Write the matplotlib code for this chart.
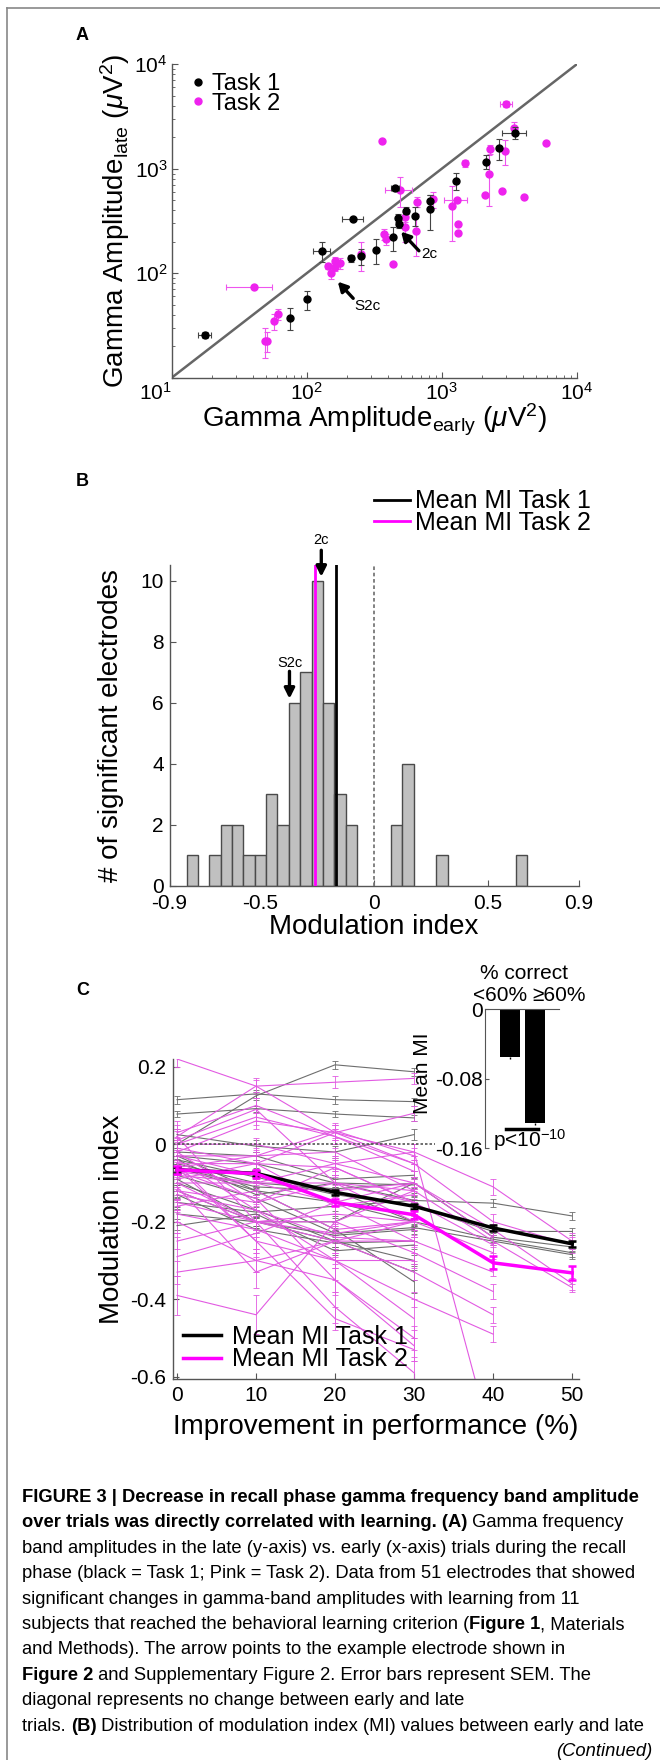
import numpy as np
import matplotlib
matplotlib.use("Agg")
import matplotlib.pyplot as plt
from matplotlib.lines import Line2D
from matplotlib.patches import Rectangle

plt.rcParams["font.family"] = ["Liberation Sans", "DejaVu Sans"]
plt.rcParams["mathtext.fontset"] = "custom"
plt.rcParams["mathtext.rm"] = "Liberation Sans"
plt.rcParams["mathtext.it"] = "Liberation Sans:italic"
plt.rcParams["mathtext.bf"] = "Liberation Sans:bold"
plt.rcParams["axes.unicode_minus"] = False

W, H = 660, 1760
MAGENTA = "#ff00ff"
PINK = "#e25ae2"
GRAY = "#6e6e6e"

# ---------------- panel A: late vs early gamma amplitude ----------------
t1_early = [17.7, 74.6, 100, 130, 214, 222, 251, 327, 438, 450, 474, 480, 540, 635, 813, 813, 1279, 2138, 2650, 3476]
t1_late = [25.6, 37.5, 56.2, 164, 139, 330, 146, 167, 220, 650, 340, 295, 397, 356, 495, 412, 769, 1169, 1570, 2218]
t1_late_err = [1.5, 9, 12, 37, 12, 10, 25, 45, 55, 40, 30, 25, 30, 75, 60, 150, 140, 180, 350, 300]
t1_early_err = [2, 0, 0, 18, 0, 40, 0, 0, 0, 30, 0, 0, 0, 0, 0, 0, 0, 0, 0, 700]

t2_early = [40.4, 49, 51, 57.7, 61.1, 143, 152, 161, 163, 176, 251, 359, 373, 386, 438, 490, 533, 533,
            656, 643, 867, 1199, 1297, 1313, 1320, 1496, 2109, 2249, 2279, 2786, 2953, 3010, 3428, 4036, 5875]
t2_late = [74.3, 22.6, 22.6, 34.8, 40.4, 117, 100, 132, 115, 124, 152, 1858, 237, 212, 122, 627, 348, 279,
           484, 255, 513, 443, 499, 296, 241, 1128, 561, 891, 1535, 617, 1479, 4169, 2439, 532, 1754]
t2_late_err = [2, 7, 5, 6, 5, 8, 12, 10, 10, 15, 48, 0, 30, 25, 3, 200, 40, 80,
               50, 110, 90, 240, 20, 10, 10, 80, 10, 450, 150, 10, 400, 300, 350, 10, 10]
t2_early_err = [15, 0, 0, 0, 0, 0, 0, 0, 0, 0, 0, 0, 0, 0, 0, 110, 0, 0,
                0, 0, 0, 0, 250, 0, 0, 0, 0, 0, 0, 0, 0, 300, 0, 0, 0]
amp_ticks = [10, 100, 1000, 10000]
amp_ticklabels = [r"$\mathregular{10^{1}}$", r"$\mathregular{10^{2}}$",
                  r"$\mathregular{10^{3}}$", r"$\mathregular{10^{4}}$"]

# ---------------- panel B: histogram of modulation index ----------------
mi_bin_centers = [-0.80, -0.70, -0.65, -0.60, -0.55, -0.50, -0.45, -0.40, -0.35, -0.30,
                  -0.25, -0.20, -0.15, -0.10, 0.10, 0.15, 0.30, 0.65]
mi_counts = [1, 1, 2, 2, 1, 1, 3, 2, 6, 7, 10, 6, 3, 2, 2, 4, 1, 1]
mean_mi_task1 = -0.167
mean_mi_task2 = -0.261

# ---------------- panel C: MI vs improvement ----------------
improvement = [0, 10, 20, 30, 40, 50]
task1_lines = [
    [0.115, 0.13, 0.115, 0.11],
    [0.0, 0.125, 0.205, 0.187],
    [0.078, 0.092, 0.078, 0.068],
    [0.025, -0.005, -0.02, 0.025],
    [-0.03, -0.05, -0.1, -0.145, -0.152, -0.185],
    [-0.04, -0.085, -0.13, -0.16, -0.225, -0.225],
    [-0.05, -0.1, -0.115, -0.1, -0.24, -0.265],
    [-0.06, -0.12, -0.15, -0.2, -0.245, -0.28],
    [-0.08, -0.14, -0.23, -0.215, -0.25, -0.285],
    [-0.18, -0.2, -0.235, -0.22],
    [-0.21, -0.18, -0.275, -0.26],
    [-0.1, -0.17, -0.25, -0.33],
    [-0.03, -0.12, -0.22, -0.355],
    [-0.12, -0.2, -0.2, -0.1],
    [-0.02, -0.03, -0.09, -0.08],
    [-0.15, -0.175, -0.16, -0.145],
    [-0.04, -0.13, -0.1, -0.105],
    [-0.09, -0.2, -0.25, -0.3],
    [-0.06, -0.11, -0.12, -0.2],
    [-0.13, -0.22, -0.255, -0.25],
]
task1_sem = [0.01, 0.01, 0.008, 0.015, 0.01, 0.01, 0.012, 0.01, 0.01, 0.012,
             0.01, 0.02, 0.03, 0.015, 0.01, 0.012, 0.02, 0.015, 0.01, 0.01]
task2_lines = [
    [0.22, 0.15, 0.03, -0.02, -0.11, -0.25],
    [0.02, 0.15, 0.16, 0.17],
    [0.03, 0.1, 0.02, -0.05, -0.2, -0.26],
    [-0.02, 0.06, 0.03, 0.08],
    [0.0, 0.0, -0.05, -0.1, -0.22, -0.36],
    [-0.03, -0.03, -0.02, -0.12, -0.25, -0.37],
    [-0.05, -0.05, -0.06, -0.15, -0.26],
    [-0.07, -0.1, -0.1, -0.2, -0.28],
    [-0.08, -0.1, -0.15, -0.25, -0.33],
    [-0.1, -0.2, -0.2, -0.28, -0.38],
    [-0.12, -0.2, -0.25, -0.33, -0.44],
    [-0.06, -0.25, -0.3, -0.4, -0.49],
    [-0.39, -0.44, -0.2, -0.12],
    [-0.29, -0.23, -0.15, -0.1],
    [-0.33, -0.3, -0.35, -0.5],
    [0.02, -0.2, -0.42, -0.59],
    [-0.05, -0.25, -0.45, -0.53],
    [-0.1, -0.1, -0.05, -0.02, -0.78],
    [-0.03, -0.08, -0.12, -0.1, -0.24],
    [-0.12, -0.15, -0.1, -0.12],
    [-0.16, -0.12, -0.22, -0.2],
    [-0.25, -0.2, -0.18, -0.2],
    [-0.01, -0.05, 0.03, -0.05],
    [0.0, 0.07, 0.02, -0.07],
    [-0.2, -0.3, -0.25, -0.25],
    [-0.11, -0.33, -0.25, -0.2],
    [-0.04, -0.17, -0.3, -0.45],
    [-0.15, -0.2, -0.23, -0.2],
    [-0.02, -0.15, -0.06, -0.15],
    [-0.06, -0.03, 0.035, -0.03],
    [-0.13, -0.17, -0.24, -0.25],
    [-0.09, -0.05, -0.16, -0.13],
    [-0.18, -0.22, -0.3, -0.3],
    [0.01, 0.09, -0.1, -0.15],
    [-0.07, -0.14, -0.35, -0.52],
]
task2_sem = [0.02, 0.015, 0.02, 0.02, 0.015, 0.01, 0.02, 0.015, 0.01, 0.02,
             0.02, 0.02, 0.05, 0.05, 0.03, 0.04, 0.03, 0.02, 0.015, 0.02,
             0.015, 0.02, 0.02, 0.02, 0.03, 0.04, 0.05, 0.02, 0.02, 0.02,
             0.015, 0.02, 0.02, 0.03, 0.04]
mean_task1 = [-0.066, -0.075, -0.124, -0.160, -0.216, -0.257]
mean_task1_sem = [0.007, 0.007, 0.007, 0.007, 0.007, 0.007]
mean_task2 = [-0.066, -0.076, -0.150, -0.182, -0.306, -0.332]
mean_task2_sem = [0.01, 0.01, 0.01, 0.01, 0.017, 0.018]

# inset: mean MI by performance group
inset_groups = ["<60%", "\u226560%"]
inset_mean_mi = [-0.0546, -0.131]
inset_sem = [0.0025, 0.002]

caption_lines = [
    [("FIGURE 3 | Decrease in recall phase gamma frequency band amplitude", "bold")],
    [("over trials was directly correlated with learning. (A)", "bold"), (" Gamma frequency", "normal")],
    [("band amplitudes in the late (y-axis) vs. early (x-axis) trials during the recall", "normal")],
    [("phase (black = Task 1; Pink = Task 2). Data from 51 electrodes that showed", "normal")],
    [("significant changes in gamma-band amplitudes with learning from 11", "normal")],
    [("subjects that reached the behavioral learning criterion (", "normal"), ("Figure 1", "bold"),
     (", Materials", "normal")],
    [("and Methods). The arrow points to the example electrode shown in", "normal")],
    [("Figure 2", "bold"), (" and Supplementary Figure 2. Error bars represent SEM. The", "normal")],
    [("diagonal represents no change between early and late", "normal")],
    [("trials. ", "normal"), ("(B)", "bold"),
     (" Distribution of modulation index (MI) values between early and late", "normal")],
]


def px_axes(fig, left, top, right, bottom):
    return fig.add_axes([left / W, 1 - bottom / H, (right - left) / W, (bottom - top) / H])


def style_axes(ax, pad=3):
    for s in ("top", "right"):
        ax.spines[s].set_visible(False)
    for s in ("left", "bottom"):
        ax.spines[s].set_color("#555555")
        ax.spines[s].set_linewidth(1.0)
    ax.tick_params(direction="in", color="#555555", labelsize=15, length=4, width=0.8, pad=pad)
    ax.tick_params(which="minor", direction="in", color="#555555", length=2.5, width=0.6)


def place_labels(ax, xlab, ylab, xl_y, yl_x, size=20):
    ax.set_xlabel(xlab, fontsize=size)
    ax.set_ylabel(ylab, fontsize=size)
    ax.xaxis.set_label_coords(0.5, xl_y)
    ax.yaxis.set_label_coords(yl_x, 0.5)
    ax.xaxis.label.set_va("center")
    ax.yaxis.label.set_va("center")


fig = plt.figure(figsize=(W / 100, H / 100), dpi=100)

# frame around the figure
fig.add_artist(Line2D([7 / W, 1], [1 - 8 / H, 1 - 8 / H], transform=fig.transFigure, color="#888888", lw=1.2))
fig.add_artist(Line2D([7 / W, 7 / W], [0, 1 - 8 / H], transform=fig.transFigure, color="#888888", lw=1.2))

for letter, ypx in (("A", 35), ("B", 481), ("C", 990)):
    fig.text(76 / W, 1 - ypx / H, letter, fontsize=13, fontweight="bold", ha="left", va="center")

# ---------------- panel A ----------------
ax_a = px_axes(fig, 171.7, 64.3, 576.7, 377.7)
ax_a.set_xscale("log")
ax_a.set_yscale("log")
ax_a.set_xlim(10, 1e4)
ax_a.set_ylim(10, 1e4)
lims = ax_a.get_xlim()
ax_a.plot(lims, lims, color="#666666", lw=1.8, zorder=1)
eb1 = ax_a.errorbar(t1_early, t1_late, yerr=t1_late_err, xerr=t1_early_err, fmt="o", ms=5, color="k",
                    ecolor="#444444", elinewidth=0.8, capsize=2, capthick=0.8, zorder=3)
eb2 = ax_a.errorbar(t2_early, t2_late, yerr=t2_late_err, xerr=t2_early_err, fmt="o", ms=5, color="#ee22ee",
                    ecolor="#ee55ee", elinewidth=0.8, capsize=2, capthick=0.8, zorder=2)
style_axes(ax_a, pad=3)
ax_a.set_xticks(amp_ticks)
ax_a.set_xticklabels(amp_ticklabels)
ax_a.get_xticklabels()[0].set_ha("right")
ax_a.set_yticks(amp_ticks)
ax_a.set_yticklabels([""] + amp_ticklabels[1:])
place_labels(ax_a, "Gamma Amplitude$_{\\mathrm{early}}$ ($\\mu$V$^2$)",
             "Gamma Amplitude$_{\\mathrm{late}}$ ($\\mu$V$^2$)", -0.135, -0.14)
ax_a.legend([eb1[0], eb2[0]], ["Task 1", "Task 2"], loc="center left", bbox_to_anchor=(0.0395, 0.906),
            frameon=False, fontsize=17, handlelength=0.9, handletextpad=0.12, labelspacing=-0.1,
            borderpad=0, borderaxespad=0)
arrow_kw = dict(arrowstyle="-|>,head_length=0.55,head_width=0.3", lw=2.4, color="k", shrinkA=0, shrinkB=0)
ax_a.annotate("", xy=(500, 250), xytext=(678, 164), arrowprops=arrow_kw)
ax_a.text(700, 152, "2c", fontsize=11, ha="left", va="center")
ax_a.annotate("", xy=(170, 83), xytext=(221, 57.5), arrowprops=arrow_kw)
ax_a.text(226, 48.5, "S2c", fontsize=11, ha="left", va="center")

# ---------------- panel B ----------------
ax_b = px_axes(fig, 169.5, 565.5, 578.5, 885.7)
ax_b.bar(mi_bin_centers, mi_counts, width=0.05, color="#c0c0c0", edgecolor="#4a4a4a", linewidth=1.0, zorder=2)
ax_b.set_xlim(-0.9, 0.9)
ax_b.set_ylim(0, 10.5)
l1 = ax_b.axvline(mean_mi_task1, color="k", lw=2.0, zorder=3)
l2 = ax_b.axvline(mean_mi_task2, color=MAGENTA, lw=2.0, zorder=3)
ax_b.axvline(0, color="#777777", lw=1.3, ls=(0, (2, 1.5)), zorder=3)
style_axes(ax_b, pad=4)
ax_b.tick_params(axis="x", pad=6)
ax_b.set_xticks([-0.9, -0.5, 0, 0.5, 0.9])
ax_b.set_xticklabels(["-0.9", "-0.5", "0", "0.5", "0.9"])
ax_b.set_yticks([0, 2, 4, 6, 8, 10])
place_labels(ax_b, "Modulation index", "# of significant electrodes", -0.13, -0.143)
ax_b.legend([l1, l2], ["Mean MI Task 1", "Mean MI Task 2"], loc="center right", bbox_to_anchor=(1.03, 1.167),
            frameon=False, fontsize=18, handlelength=1.46, handletextpad=0.18, labelspacing=-0.1,
            borderpad=0, borderaxespad=0)
arrow_b = dict(arrowstyle="-|>,head_length=0.6,head_width=0.3", lw=2.4, color="k", shrinkA=0, shrinkB=0)
ax_b.annotate("", xy=(-0.232, 10.13), xytext=(-0.232, 11.0), arrowprops=arrow_b, annotation_clip=False)
ax_b.text(-0.232, 11.33, "2c", fontsize=10.5, ha="center", va="center", clip_on=False)
ax_b.annotate("", xy=(-0.372, 6.13), xytext=(-0.372, 7.03), arrowprops=arrow_b, annotation_clip=False)
ax_b.text(-0.372, 7.31, "S2c", fontsize=10.5, ha="center", va="center")

# ---------------- panel C ----------------
ax_c = px_axes(fig, 173.3, 1059, 578.5, 1378.7)
for vals, err in zip(task1_lines, task1_sem):
    ax_c.errorbar(improvement[:len(vals)], vals, yerr=err, color=GRAY, lw=0.8, elinewidth=0.6,
                  capsize=2, capthick=0.6, zorder=2)
for vals, err in zip(task2_lines, task2_sem):
    ax_c.errorbar(improvement[:len(vals)], vals, yerr=err, color=PINK, lw=0.8, elinewidth=0.6,
                  capsize=2, capthick=0.6, zorder=2)
ax_c.axhline(0, color="#555555", lw=1.2, ls=(0, (1.5, 1.2)), zorder=3)
m1 = ax_c.errorbar(improvement, mean_task1, yerr=mean_task1_sem, color="k", lw=2.5, elinewidth=1.8,
                   capsize=3, capthick=1.8, zorder=6)
m2 = ax_c.errorbar(improvement, mean_task2, yerr=mean_task2_sem, color=MAGENTA, lw=2.5, elinewidth=1.8,
                   capsize=3, capthick=1.8, zorder=7)
ax_c.set_xlim(-0.47, 50.8)
ax_c.set_ylim(-0.605, 0.22)
style_axes(ax_c, pad=5)
ax_c.set_xticks(improvement)
ax_c.set_yticks([-0.6, -0.4, -0.2, 0, 0.2])
ax_c.set_yticklabels(["-0.6", "-0.4", "-0.2", "0", "0.2"])
place_labels(ax_c, "Improvement in performance (%)", "Modulation index", -0.150, -0.152)
ax_c.legend([m1[0], m2[0]], ["Mean MI Task 1", "Mean MI Task 2"], loc="center left",
            bbox_to_anchor=(0.024, 0.096), frameon=False, fontsize=18, handlelength=1.5,
            handletextpad=0.44, labelspacing=-0.05, borderpad=0, borderaxespad=0)
# white background of the inset hides the traces behind it
ax_c.add_patch(Rectangle((32.7, -0.02), 20, 0.3, facecolor="white", edgecolor="none", zorder=8))

ax_in = ax_c.inset_axes([39.0, -0.0103, 9.27, 0.359], transform=ax_c.transData, zorder=9)
ax_in.set_facecolor("none")
ax_in.bar([1, 2], inset_mean_mi, width=0.8, color="k", yerr=[inset_sem, [0, 0]],
          error_kw=dict(ecolor="k", elinewidth=1.0, capsize=0))
ax_in.set_xlim(0.028, 2.96)
ax_in.set_ylim(-0.16, 0)
for s in ("bottom", "right"):
    ax_in.spines[s].set_visible(False)
ax_in.spines["left"].set_color("#555555")
ax_in.spines["top"].set_color("#555555")
ax_in.set_xticks([])
ax_in.set_yticks([0, -0.08, -0.16])
ax_in.set_yticklabels(["0", "-0.08", "-0.16"])
ax_in.tick_params(direction="in", labelsize=15, length=3, color="#555555", pad=2)
ax_in.set_ylabel("Mean MI", fontsize=15)
ax_in.yaxis.set_label_coords(-0.862, 0.54)
ax_in.yaxis.label.set_va("center")
ax_in.text(1.59, 0.041, "% correct", fontsize=15, ha="center", va="center", clip_on=False)
ax_in.text(0.63, 0.016, inset_groups[0], fontsize=15, ha="center", va="center", clip_on=False)
ax_in.text(2.97, 0.016, inset_groups[1], fontsize=15, ha="center", va="center", clip_on=False)
ax_in.plot([0.87, 2.12], [-0.138, -0.138], color="k", lw=2.5, clip_on=False)
ax_in.text(1.79, -0.151, "p<10$^{-10}$", fontsize=15, ha="center", va="center", clip_on=False)

# ---------------- caption ----------------
renderer = fig.canvas.get_renderer()


def text_width(txt, size, weight):
    t = fig.text(0, 0, "|" + txt + "|", fontsize=size, fontweight=weight)
    w1 = t.get_window_extent(renderer=renderer).width
    t.remove()
    t = fig.text(0, 0, "||", fontsize=size, fontweight=weight)
    w0 = t.get_window_extent(renderer=renderer).width
    t.remove()
    return w1 - w0


widest = max(sum(text_width(s, 10, w) for s, w in line) for line in caption_lines)
cap_size = 10 * 624 / widest
y0, dy = 1502, 25.4
for i, line in enumerate(caption_lines):
    x = 22
    for seg, weight in line:
        fig.text(x / W, 1 - (y0 + i * dy) / H, seg, fontsize=cap_size, fontweight=weight,
                 ha="left", va="baseline")
        x += text_width(seg, cap_size, weight)
fig.text(652 / W, 1 - (y0 + 10 * dy) / H, "(Continued)", fontsize=cap_size, fontstyle="italic",
         ha="right", va="baseline")

fig.savefig("out.png", dpi=100)
